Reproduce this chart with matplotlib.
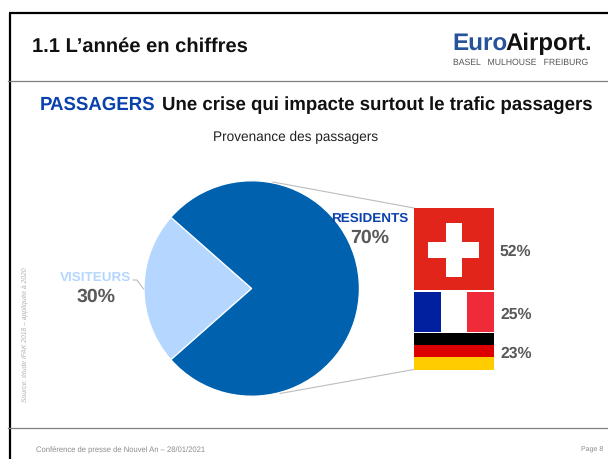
import matplotlib
matplotlib.use("Agg")
import matplotlib.pyplot as plt
from matplotlib.patches import Rectangle

plt.rcParams['font.family'] = ['Liberation Sans', 'DejaVu Sans']
plt.rcParams['text.hinting'] = 'none'
plt.rcParams['text.hinting_factor'] = 8

# --- data ---
segments = ["VISITEURS", "RESIDENTS"]
segment_labels = ["30%", "70%"]
drawn_shares = [23, 77]          # wedge sizes as drawn in the picture
countries = ["Suisse", "France", "Allemagne"]
country_shares = [52, 25, 23]
country_labels = ["52%", "25%", "23%"]
title = "1.1 L\u2019année en chiffres"
head_a = "PASSAGERS"
head_b = "Une crise qui impacte surtout le trafic passagers"
subtitle = "Provenance des passagers"
source = "Source: étude IFAK 2018 \u2013 appliquée à 2020"
footer = "Conférence de presse de Nouvel An \u2013 28/01/2021"
page = "Page 8"

BLUE = "#0061AE"; LIGHT = "#B5D7FF"; HEAD = "#0B41AD"; GREY = "#595959"

fig = plt.figure(figsize=(6.08, 4.59), dpi=100)
ax = fig.add_axes([0, 0, 1, 1])

# pie
cx, cy, r = 251.7, 288.5, 107.7
ax.pie(drawn_shares, colors=[LIGHT, BLUE], center=(cx, cy), radius=r,
       startangle=180 - drawn_shares[0] * 1.8, counterclock=True,
       wedgeprops=dict(edgecolor="white", linewidth=0.9), frame=False)
ax.set_xlim(0, 608); ax.set_ylim(459, 0); ax.set_aspect('auto'); ax.axis('off')

# frame and rules
ax.plot([10, 10], [459, 13], color="black", lw=1.6, solid_capstyle='butt')
ax.plot([9, 608], [13, 13], color="black", lw=1.6, solid_capstyle='butt')
ax.plot([8, 608], [81, 81], color="#7F7F7F", lw=0.9)
ax.plot([8, 608], [428, 428], color="#7F7F7F", lw=0.9)

# connector lines
ax.plot([273, 414], [182, 208], color="#BDBDBD", lw=0.8, zorder=1)
ax.plot([280, 414], [393.5, 369.5], color="#BDBDBD", lw=0.8, zorder=1)
ax.plot([133, 137, 143.5], [280, 280, 289], color="#A6A6A6", lw=0.6)

# flags: heights follow the country shares
fx0, fx1 = 414, 494
fw = fx1 - fx0
top, total_h, gap = 208.3, 158.0, 1.6
ys = []
y = top
for s in country_shares:
    h = total_h * s / sum(country_shares)
    ys.append((y, h))
    y += h + gap

(y0, h0), (y1, h1), (y2, h2) = ys
ax.add_patch(Rectangle((fx0, y0), fw, h0, fc="#E1251B", ec="none"))
ax.add_patch(Rectangle((428.3, 242), 51, 16, fc="white", ec="none"))
ax.add_patch(Rectangle((446.3, 223.3), 15.4, 53.4, fc="white", ec="none"))
for i, c in enumerate(["#00209F", "white", "#EF2B3A"]):
    ax.add_patch(Rectangle((fx0 + i * fw / 3, y1), fw / 3, h1, fc=c, ec="none"))
for i, c in enumerate(["#000000", "#DD0000", "#FFCC00"]):
    ax.add_patch(Rectangle((fx0, y2 + i * h2 / 3), fw, h2 / 3, fc=c, ec="none"))

# header text
ax.text(32, 51.5, title, fontsize=14.5, fontweight='bold', color="#111111", va='baseline')
ax.text(40, 110, head_a, fontsize=13.45, fontweight='bold', color=HEAD, va='baseline')
ax.text(162, 110, head_b, fontsize=13.45, fontweight='bold', color="#111111", va='baseline')
ax.text(296, 140.7, subtitle, fontsize=9.8, color="#222222", va='baseline', ha='center')

# logo as text
ax.text(452.5, 50, "Euro", fontsize=17.5, fontweight='bold', color="#27539B", va='baseline')
ax.text(505.5, 50, "Airport.", fontsize=17.3, fontweight='bold', color="#111111", va='baseline')
ax.text(453, 65, "BASEL   MULHOUSE   FREIBURG", fontsize=6.2, color="#555555", va='baseline')

# segment labels
ax.text(96, 281, segments[0], fontsize=9.7, fontweight='bold', color=LIGHT, ha='center', va='baseline')
ax.text(96, 301.7, segment_labels[0], fontsize=14, fontweight='bold', color=GREY, ha='center', va='baseline')
ax.text(369.5, 222.3, segments[1], fontsize=9.7, fontweight='bold', color=HEAD, ha='center', va='baseline')
ax.text(369.5, 242.7, segment_labels[1], fontsize=14, fontweight='bold', color=GREY, ha='center', va='baseline')

# country labels
for lab, yy in zip(country_labels, [256, 318.7, 358]):
    ax.text(500, yy, lab, fontsize=11.3, fontweight='bold', color=GREY, va='baseline')

# side and footer text
ax.text(25, 335, source, fontsize=4.9, style='italic', color="#B0B0B0", rotation=90, ha='center', va='center')
ax.text(36, 450, footer, fontsize=5.5, color="#8C8C8C", va='center')
ax.text(603, 449.5, page, fontsize=5, color="#8C8C8C", va='center', ha='right')

fig.savefig("out.png", dpi=100)
